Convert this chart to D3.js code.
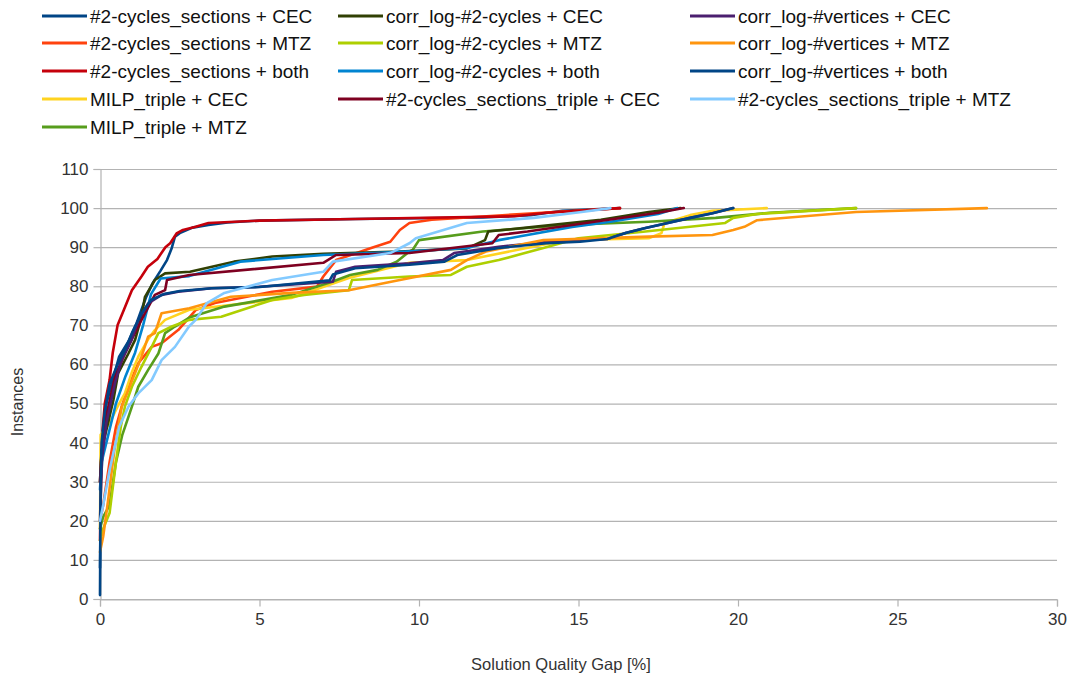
<!DOCTYPE html>
<html><head><meta charset="utf-8">
<script src="https://cdn.jsdelivr.net/npm/d3@7"></script>
<style>body{margin:0;background:#fff;} svg{display:block;font-family:"Liberation Sans",Arial,sans-serif;}</style>
</head><body><svg id="c" width="1067" height="679"></svg>
<script>
const xTicks = [0,5,10,15,20,25,30];
const yTicks = [0,10,20,30,40,50,60,70,80,90,100,110];
const seriesNames = [
 "#2-cycles_sections + CEC","#2-cycles_sections + MTZ","#2-cycles_sections + both","MILP_triple + CEC","MILP_triple + MTZ",
 "corr_log-#2-cycles + CEC","corr_log-#2-cycles + MTZ","corr_log-#2-cycles + both","#2-cycles_sections_triple + CEC",
 "corr_log-#vertices + CEC","corr_log-#vertices + MTZ","corr_log-#vertices + both","#2-cycles_sections_triple + MTZ"];
const seriesColors = ["#004586","#ff420e","#c5000b","#ffd320","#579d1c","#314004","#aecf00","#0084d1","#7e0021","#4b1f6f","#ff950e","#004586","#83caff"];

const s2cCEC = [[0,8],[0.03,30],[0.1,40],[0.2,50],[0.4,56],[0.6,62],[0.9,66],[1.15,70.6],[1.3,74],[1.45,77.3],[1.65,80.8],[1.9,84],[2.1,86.7],[2.25,89.8],[2.35,92.7],[2.5,93.6],[2.9,95],[3.4,95.7],[4,96.3],[5,96.8],[8,97.2],[12,97.6],[13.5,98.2],[14.5,99.3],[16.3,100]];
const s2cMTZ = [[0,20],[0.1,24],[0.3,35],[0.5,44],[0.68,49.2],[0.89,54.3],[1.2,60.3],[1.62,64.5],[1.93,65.4],[2.45,68.8],[3,73.9],[3.6,75.7],[5.4,78.6],[6.8,79.9],[7,82.5],[7.4,86.7],[8.5,89.8],[9.1,91.4],[9.4,94.4],[9.7,96.2],[10.4,97],[13.6,98.7],[16.3,100]];
const s2cBoth = [[0,15],[0.05,40],[0.15,50],[0.3,56],[0.4,63],[0.55,70],[0.75,74],[0.9,77],[1.0,79],[1.3,82.5],[1.5,85],[1.8,87],[2.05,90],[2.2,91],[2.4,93.5],[2.6,94.4],[3.0,95.2],[3.4,96.2],[5,96.8],[8,97.2],[13,97.9],[14,98.8],[16.3,100]];
const milpCEC = [[0,18],[0.02,42],[0.3,45],[0.6,50],[0.78,52.6],[0.99,57.8],[1.2,62],[1.5,66.3],[1.72,68.8],[2.04,71.4],[2.8,74],[6,77],[7.8,82.1],[9.7,86],[11.5,86.7],[14.6,91.8],[17.2,92.3],[17.6,93.6],[17.7,96.2],[18.5,98.2],[19.2,99.3],[20.9,100]];
const milpMTZ = [[0,18],[0.1,21],[0.3,24],[0.5,35],[0.7,42],[1.0,49.2],[1.2,54.3],[1.51,58.6],[1.83,62.8],[2.04,68],[2.35,69.7],[2.8,72],[3.9,74.8],[6,77.8],[7.3,81.2],[7.84,82.9],[8.7,84.2],[9.3,86.3],[9.7,88.9],[9.8,89.3],[10,91.8],[12,94],[14.6,95.7],[17.2,96.5],[19.3,97.5],[21,98.8],[23.7,100]];
const c2cCEC = [[0,30],[0.05,38],[0.25,45],[0.42,50.9],[0.57,57.8],[0.89,62.8],[1.1,66.3],[1.3,72.2],[1.41,77.3],[1.72,81.6],[2.04,83.3],[2.82,83.7],[4.2,86.3],[5.4,87.6],[7,88.3],[9.4,88.9],[11.5,89.7],[12.07,91.8],[12.17,94],[13.6,95.2],[15.7,97],[17.2,99],[18.2,100]];
const c2cMTZ = [[0,15],[0.1,18],[0.3,22],[0.5,35],[0.65,44],[0.78,49.2],[1.0,54.3],[1.3,59.4],[1.62,64.5],[1.83,68],[2.25,69.7],[2.8,71.4],[3.8,72.2],[5.4,76.5],[6.4,77.8],[7.8,79],[7.9,81.6],[9.7,82.5],[11,82.9],[11.5,85],[12.5,86.7],[13.9,89.8],[15,92.3],[17.1,94],[19.6,96.2],[19.85,97.5],[20.6,98.5],[23.7,100]];
const c2cBoth = [[0,28],[0.05,35],[0.2,40],[0.5,50],[0.8,57],[1.1,63],[1.35,70],[1.6,78],[1.9,82],[2.8,82.6],[4.4,86.3],[7,88],[9.5,88.8],[11.5,89.8],[12.5,91.8],[14.8,95.2],[16,96.5],[17.5,98.5],[18.1,100]];
const s2ctCEC = [[0,30],[0.03,35],[0.15,45],[0.47,56.9],[0.78,62.8],[1.09,68],[1.41,73.1],[1.72,77.8],[2.04,79],[2.1,81.6],[2.8,82.9],[7,86],[7.4,88],[9.7,88.5],[12.3,91],[12.5,93.1],[13.4,94],[15.5,96.5],[17.5,98.8],[18.3,100]];
const cvCEC = [[0,20],[0.05,35],[0.2,45],[0.47,55.2],[0.68,61.1],[0.99,66.3],[1.2,71.4],[1.51,75.6],[1.93,77.8],[2.45,78.6],[3.5,79.5],[4.9,79.8],[7.3,81.2],[7.4,83.7],[8,85],[9.7,85.9],[10.75,86.7],[11.1,88.5],[12.5,90.1],[14.1,91.4],[15.9,92.1],[16.5,93.7],[17.1,94.9],[17.8,96.2],[18.5,97.5],[19.2,98.7],[19.85,100]];
const cvMTZ = [[0,12],[0.1,16],[0.25,25],[0.45,38],[0.68,49.2],[0.89,53.5],[1.1,57.8],[1.3,62],[1.51,67.1],[1.72,68],[1.93,73.1],[2.8,74.4],[4.1,77.3],[6,78.3],[7.8,79],[9.4,81.6],[11,84.2],[11.5,86.7],[12.1,88.9],[13.9,91.8],[17.2,92.7],[19.2,93.1],[19.85,94.4],[20.2,95.2],[20.6,96.9],[23.7,99],[27.8,100]];
const cvBoth = [[0,1],[0.02,30],[0.05,40],[0.15,48],[0.3,55],[0.55,60],[0.8,64],[1.0,68],[1.3,73],[1.6,76.5],[2.0,78],[2.5,78.8],[3.5,79.5],[5,79.8],[7.2,81.5],[7.3,83],[8,84.6],[9.7,85.5],[10.8,86.3],[11.2,88],[12.5,89.8],[14,91],[15.05,91.4],[15.9,92.1],[16.5,93.7],[17.1,94.9],[17.8,96.2],[18.5,97.5],[19.2,98.7],[19.85,100]];
const s2ctMTZ = [[0,20],[0.1,24],[0.3,33],[0.6,44],[0.89,49.2],[1.2,52.6],[1.62,56],[1.93,61.1],[2.35,64.5],[2.79,69.7],[3,71.4],[3.35,75.7],[3.9,78.3],[5.4,81.6],[7,83.7],[7.3,86.3],[9.1,88.5],[9.7,91],[9.9,92.3],[11.5,96.2],[13.6,97.5],[15.1,99],[16,100]];

const seriesData = [s2cCEC,s2cMTZ,s2cBoth,milpCEC,milpMTZ,c2cCEC,c2cMTZ,c2cBoth,s2ctCEC,cvCEC,cvMTZ,cvBoth,s2ctMTZ];

const svg = d3.select("#c");
const L=100,R=1057,T=169,B=599;
const x = d3.scaleLinear().domain([0,30]).range([L,R]);
const y = d3.scaleLinear().domain([0,110]).range([B,T]);

// grid
svg.append("g").selectAll("line").data(yTicks).join("line")
  .attr("x1",L).attr("x2",R).attr("y1",d=>y(d)+0.5).attr("y2",d=>y(d)+0.5)
  .attr("stroke","#b3b3b3").attr("stroke-width",1.2);

// y axis
const ya = svg.append("g").attr("transform",`translate(${L+0.5},0)`)
  .call(d3.axisLeft(y).tickValues(yTicks).tickSize(7).tickPadding(5));
ya.select(".domain").attr("stroke","#b3b3b3").attr("stroke-width",1.2);
ya.selectAll(".tick line").attr("stroke","#b3b3b3").attr("stroke-width",1.2);
ya.selectAll("text").attr("font-size",17).attr("fill","#333").attr("font-family","Liberation Sans, Arial, sans-serif");

// x axis
const xa = svg.append("g").attr("transform",`translate(0,${B+0.5})`)
  .call(d3.axisBottom(x).tickValues(xTicks).tickSize(7).tickPadding(6));
xa.select(".domain").attr("stroke","#b3b3b3").attr("stroke-width",1.2);
xa.selectAll(".tick line").attr("stroke","#b3b3b3").attr("stroke-width",1.2);
xa.selectAll("text").attr("font-size",17).attr("fill","#333").attr("font-family","Liberation Sans, Arial, sans-serif");

// lines
const line = d3.line().x(d=>x(d[0])).y(d=>y(d[1]));
svg.append("g").selectAll("path").data(seriesData).join("path")
  .attr("d",line).attr("fill","none")
  .attr("stroke",(d,i)=>seriesColors[i]).attr("stroke-width",2.6)
  .attr("stroke-linejoin","round").attr("stroke-linecap","round");

// axis titles
svg.append("text").attr("x",561).attr("y",670).attr("text-anchor","middle")
  .attr("font-size",16.5).attr("fill","#333").text("Solution Quality Gap [%]");
svg.append("text").attr("transform","translate(23,402) rotate(-90)").attr("text-anchor","middle")
  .attr("font-size",16).attr("fill","#333").text("Instances");

// legend
const colX = [42,338,690];
const rowY = [16,43,71,99,127];
const layout = [[0,0],[0,1],[0,2],[0,3],[0,4],[1,0],[1,1],[1,2],[1,3],[2,0],[2,1],[2,2],[2,3]];
const lg = svg.append("g").selectAll("g").data(seriesNames).join("g")
  .attr("transform",(d,i)=>`translate(${colX[layout[i][0]]},${rowY[layout[i][1]]})`);
lg.append("line").attr("x1",0).attr("x2",45).attr("y1",0).attr("y2",0)
  .attr("stroke",(d,i)=>seriesColors[i]).attr("stroke-width",3);
lg.append("text").attr("x",48).attr("y",6.5).attr("font-size",19).attr("fill","#111").text(d=>d);
</script></body></html>
